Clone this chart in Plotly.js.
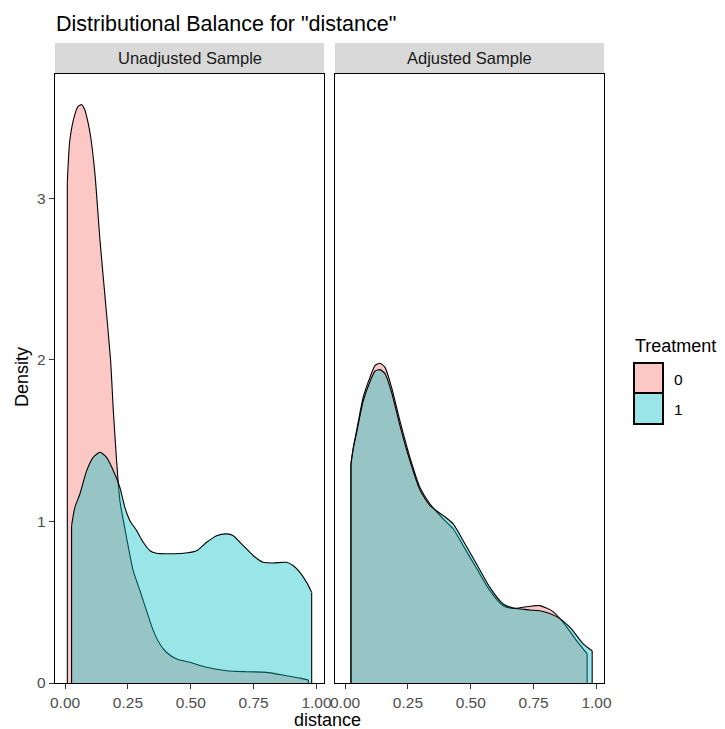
<!DOCTYPE html>
<html>
<head>
<meta charset="utf-8">
<script src="https://cdn.plot.ly/plotly-3.0.1.min.js"></script>
<style>html,body{margin:0;padding:0;background:#fff;}#chart{width:725px;height:729px;}</style>
</head>
<body>
<div id="chart"></div>
<script>
// ---- data ----
const panels = ["Unadjusted Sample", "Adjusted Sample"];
const groups = ["0", "1"];
const xTickVals = [0, 0.25, 0.5, 0.75, 1];
const xTickText = ["0.00", "0.25", "0.50", "0.75", "1.00"];
const yTickVals = [0, 1, 2, 3];

const unadj0X = [0.009, 0.019, 0.039, 0.052, 0.066, 0.078, 0.090, 0.102, 0.119, 0.139, 0.159, 0.181, 0.192, 0.205, 0.218, 0.232, 0.252, 0.271, 0.298, 0.324, 0.351, 0.377, 0.404, 0.444, 0.497, 0.563, 0.643, 0.720, 0.802, 0.881, 0.935, 0.968];
const unadj0Y = [3.10, 3.36, 3.52, 3.57, 3.58, 3.55, 3.48, 3.38, 3.15, 2.74, 2.39, 2.00, 1.686, 1.376, 1.129, 1.005, 0.840, 0.695, 0.571, 0.448, 0.324, 0.241, 0.189, 0.149, 0.128, 0.097, 0.076, 0.070, 0.066, 0.045, 0.030, 0.019];

const unadj1X = [0.026, 0.039, 0.059, 0.086, 0.112, 0.139, 0.165, 0.198, 0.218, 0.238, 0.258, 0.285, 0.311, 0.338, 0.364, 0.420, 0.470, 0.523, 0.563, 0.603, 0.643, 0.669, 0.709, 0.749, 0.788, 0.828, 0.881, 0.908, 0.934, 0.961, 0.981];
const unadj1Y = [0.974, 1.087, 1.170, 1.315, 1.397, 1.428, 1.397, 1.294, 1.211, 1.087, 1.005, 0.943, 0.871, 0.819, 0.803, 0.800, 0.803, 0.819, 0.871, 0.912, 0.923, 0.912, 0.850, 0.788, 0.747, 0.743, 0.747, 0.726, 0.685, 0.623, 0.561];

const adj0X = [0.0235, 0.033, 0.046, 0.072, 0.099, 0.119, 0.139, 0.159, 0.185, 0.218, 0.258, 0.298, 0.338, 0.391, 0.430, 0.470, 0.523, 0.576, 0.629, 0.669, 0.709, 0.745, 0.775, 0.822, 0.868, 0.921, 0.963];
const adj0Y = [1.356, 1.459, 1.562, 1.768, 1.892, 1.965, 1.979, 1.954, 1.830, 1.624, 1.397, 1.211, 1.108, 1.015, 0.955, 0.850, 0.710, 0.572, 0.478, 0.462, 0.469, 0.477, 0.479, 0.448, 0.375, 0.262, 0.180];

const adj1X = [0.0235, 0.033, 0.046, 0.072, 0.099, 0.119, 0.139, 0.159, 0.185, 0.218, 0.258, 0.298, 0.338, 0.391, 0.430, 0.470, 0.523, 0.576, 0.629, 0.669, 0.735, 0.788, 0.842, 0.895, 0.948, 0.983];
const adj1Y = [1.356, 1.455, 1.550, 1.745, 1.865, 1.930, 1.940, 1.915, 1.800, 1.595, 1.375, 1.195, 1.098, 1.036, 0.985, 0.881, 0.737, 0.592, 0.489, 0.464, 0.452, 0.443, 0.411, 0.344, 0.241, 0.200];

// ---- styling ----
const FONT = "Liberation Sans, Arial, sans-serif";
const fill0 = "rgba(248,118,109,0.4)";
const fill1 = "rgba(0,191,196,0.4)";
const fills = [fill0, fill1];

function area(x, y, color, xa, ya) {
  return {x: x, y: y, type: "scatter", mode: "lines", fill: "tozeroy",
    fillcolor: color, line: {color: "#000", width: 1.1, shape: "spline", smoothing: 0.6},
    xaxis: xa, yaxis: ya, hoverinfo: "skip", showlegend: false};
}
// vertical outline at both ends of a density curve (down to zero)
function edges(x, y, xa, ya) {
  const n = x.length - 1;
  return {x: [x[0], x[0], null, x[n], x[n]], y: [0, y[0], null, y[n], 0],
    type: "scatter", mode: "lines", line: {color: "#000", width: 1.1},
    xaxis: xa, yaxis: ya, hoverinfo: "skip", showlegend: false};
}

const traces = [
  area(unadj0X, unadj0Y, fill0, "x", "y"), edges(unadj0X, unadj0Y, "x", "y"),
  area(unadj1X, unadj1Y, fill1, "x", "y"), edges(unadj1X, unadj1Y, "x", "y"),
  area(adj0X, adj0Y, fill0, "x2", "y2"), edges(adj0X, adj0Y, "x2", "y2"),
  area(adj1X, adj1Y, fill1, "x2", "y2"), edges(adj1X, adj1Y, "x2", "y2")
];

// figure geometry (pixels)
const W = 725, H = 729;
const M = {l: 55, r: 121, t: 43, b: 46};
const PW = W - M.l - M.r, PH = H - M.t - M.b;
const px = v => (v - M.l) / PW;
const py = v => (H - M.b - v) / PH;

const xr = [-0.04, 1.03];
const yr = [0, 3.77];
const dom1 = [0, px(324)], dom2 = [px(335), 1];
const yTop = py(74);

const xaxisBase = {range: xr, tickvals: xTickVals, ticktext: xTickText, ticks: "outside",
  ticklen: 5, tickwidth: 1, tickcolor: "#333", showgrid: false, zeroline: false,
  showline: true, mirror: true, linecolor: "#000", linewidth: 1.2,
  tickfont: {family: FONT, size: 15.5, color: "#4D4D4D"}, fixedrange: true};

const layout = {
  width: W, height: H, margin: M,
  paper_bgcolor: "#fff", plot_bgcolor: "#fff",
  font: {family: FONT},
  showlegend: false,
  title: {text: 'Distributional Balance for "distance"', x: 56 / W, xref: "container", xanchor: "left",
    y: 1 - 23 / H, yref: "container", yanchor: "middle", font: {family: FONT, size: 21.5, color: "#000"}},
  xaxis: Object.assign({}, xaxisBase, {domain: dom1, anchor: "y"}),
  xaxis2: Object.assign({}, xaxisBase, {domain: dom2, anchor: "y2"}),
  yaxis: {range: yr, domain: [0, yTop], tickvals: yTickVals, ticks: "outside", ticklen: 5,
    tickwidth: 1, tickcolor: "#333", showgrid: false, zeroline: false, showline: true, mirror: true,
    linecolor: "#000", linewidth: 1.2, tickfont: {family: FONT, size: 15.5, color: "#4D4D4D"},
    anchor: "x", fixedrange: true},
  yaxis2: {range: yr, domain: [0, yTop], showticklabels: false, ticks: "", showgrid: false,
    zeroline: false, showline: true, mirror: true, linecolor: "#000", linewidth: 1.2,
    anchor: "x2", fixedrange: true},
  shapes: [
    {type: "rect", xref: "paper", yref: "paper", x0: dom1[0], x1: dom1[1], y0: yTop, y1: 1,
      fillcolor: "#D9D9D9", line: {width: 0}, layer: "below"},
    {type: "rect", xref: "paper", yref: "paper", x0: dom2[0], x1: dom2[1], y0: yTop, y1: 1,
      fillcolor: "#D9D9D9", line: {width: 0}, layer: "below"},
    // legend keys
    {type: "rect", xref: "paper", yref: "paper", x0: px(634), x1: px(663), y0: py(393), y1: py(363),
      fillcolor: fills[0], line: {color: "#000", width: 2}},
    {type: "rect", xref: "paper", yref: "paper", x0: px(634), x1: px(663), y0: py(424), y1: py(393),
      fillcolor: fills[1], line: {color: "#000", width: 2}}
  ],
  annotations: [
    {text: panels[0], xref: "paper", yref: "paper", x: (dom1[0] + dom1[1]) / 2, y: (yTop + 1) / 2,
      showarrow: false, xanchor: "center", yanchor: "middle", font: {family: FONT, size: 16.5, color: "#1A1A1A"}},
    {text: panels[1], xref: "paper", yref: "paper", x: (dom2[0] + dom2[1]) / 2, y: (yTop + 1) / 2,
      showarrow: false, xanchor: "center", yanchor: "middle", font: {family: FONT, size: 16.5, color: "#1A1A1A"}},
    {text: "Density", xref: "paper", yref: "paper", x: px(22), y: py(377), textangle: -90,
      showarrow: false, xanchor: "center", yanchor: "middle", font: {family: FONT, size: 18, color: "#000"}},
    {text: "distance", xref: "paper", yref: "paper", x: px(327), y: py(720),
      showarrow: false, xanchor: "center", yanchor: "middle", font: {family: FONT, size: 18, color: "#000"}},
    {text: "Treatment", xref: "paper", yref: "paper", x: px(633), y: py(346),
      showarrow: false, xanchor: "left", yanchor: "middle", font: {family: FONT, size: 18, color: "#000"}},
    {text: groups[0], xref: "paper", yref: "paper", x: px(672), y: py(379),
      showarrow: false, xanchor: "left", yanchor: "middle", font: {family: FONT, size: 15.5, color: "#000"}},
    {text: groups[1], xref: "paper", yref: "paper", x: px(672), y: py(409),
      showarrow: false, xanchor: "left", yanchor: "middle", font: {family: FONT, size: 15.5, color: "#000"}}
  ]
};

Plotly.newPlot("chart", traces, layout, {displayModeBar: false, staticPlot: true});
</script>
</body>
</html>
